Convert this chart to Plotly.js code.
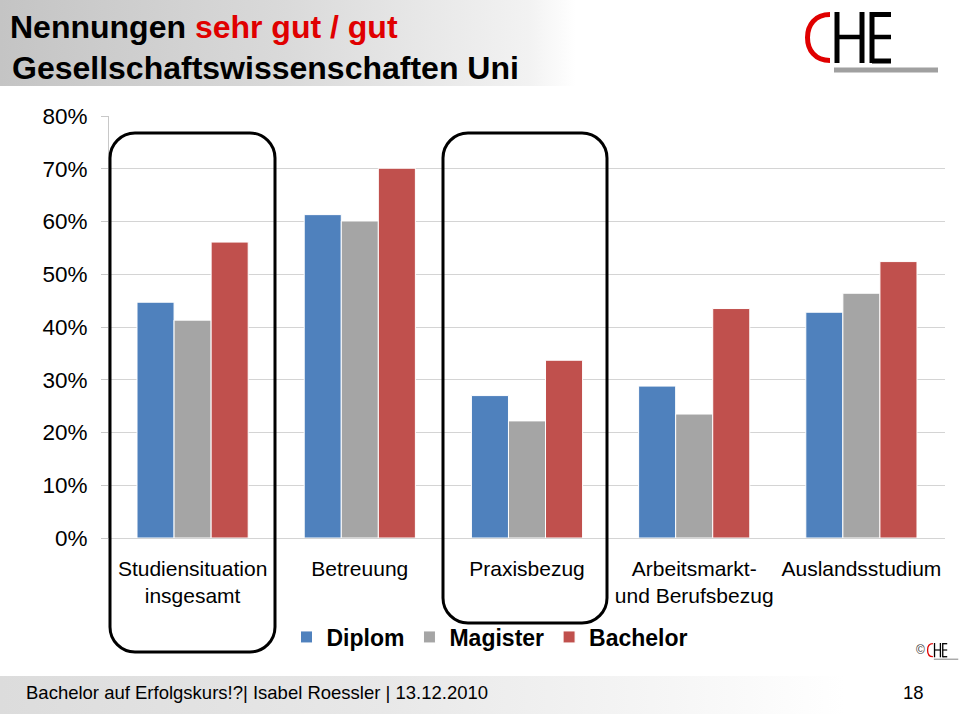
<!DOCTYPE html>
<html>
<head>
<meta charset="utf-8">
<script src="https://cdn.plot.ly/plotly-3.0.1.min.js"></script>
<style>
  html, body { margin: 0; padding: 0; background: #ffffff; }
  #wrap { position: relative; width: 960px; height: 720px; overflow: hidden; background: #ffffff; }
  #hdr { position: absolute; left: 0; top: 0; width: 960px; height: 86px;
         background: linear-gradient(to right, #c4c4c4 0%, #dadada 30%, #f2f2f2 55%, #ffffff 60%, #ffffff 100%); }
  #ftr { position: absolute; left: 0; top: 676px; width: 960px; height: 38px;
         background: linear-gradient(to right, #dcdcdc 0%, #e8e8e8 40%, #f6f6f6 70%, #ffffff 88%); }
  #chart { position: absolute; left: 0; top: 0; width: 960px; height: 720px; }
</style>
</head>
<body>
<div id="wrap">
  <div id="hdr"></div>
  <div id="ftr"></div>
  <div id="chart"></div>
</div>
<script>
// ---- data ----
const categories = ["Studiensituation<br>insgesamt", "Betreuung", "Praxisbezug", "Arbeitsmarkt-<br>und Berufsbezug", "Auslandsstudium"];
const seriesNames = ["Diplom", "Magister", "Bachelor"];
const diplom   = [44.7, 61.3, 27.0, 28.8, 42.8];
const magister = [41.3, 60.1, 22.2, 23.5, 46.4];
const bachelor = [56.1, 70.1, 33.7, 43.5, 52.4];
const yTickVals = [0, 10, 20, 30, 40, 50, 60, 70, 80];
const yTickText = ["0%", "10%", "20%", "30%", "40%", "50%", "60%", "70%", "80%"];
const titleLine1 = "Nennungen";
const titleRed = "sehr gut / gut";
const titleLine2 = "Gesellschaftswissenschaften Uni";
const footerText = "Bachelor auf Erfolgskurs!?| Isabel Roessler | 13.12.2010";
const pageNumber = "18";

// ---- layout helpers (pixel -> paper) ----
const ML = 109, MR = 15, MT = 116, MB = 182;
const PW = 960 - ML - MR, PH = 720 - MT - MB;
function px(x) { return (x - ML) / PW; }
function py(y) { return (720 - MB - y) / PH; }
function P(x, y) { return px(x).toFixed(5) + "," + py(y).toFixed(5); }
function roundRect(x0, y0, x1, y1, r) {
  const k = r * (1 - 0.5523);
  return "M" + P(x0 + r, y0) + " L" + P(x1 - r, y0) +
    " C" + P(x1 - k, y0) + " " + P(x1, y0 + k) + " " + P(x1, y0 + r) +
    " L" + P(x1, y1 - r) +
    " C" + P(x1, y1 - k) + " " + P(x1 - k, y1) + " " + P(x1 - r, y1) +
    " L" + P(x0 + r, y1) +
    " C" + P(x0 + k, y1) + " " + P(x0, y1 - k) + " " + P(x0, y1 - r) +
    " L" + P(x0, y0 + r) +
    " C" + P(x0, y0 + k) + " " + P(x0 + k, y0) + " " + P(x0 + r, y0) + " Z";
}
function logoShapes(ox, oy, sx, sy, lw) {
  const T = (x, y) => [ox + (x - 805) * sx, oy + (y - 12) * sy];
  const line = (a, b, color, w) => {
    const p0 = T(a[0], a[1]), p1 = T(b[0], b[1]);
    return { type: "line", xref: "paper", yref: "paper",
      x0: px(p0[0]), y0: py(p0[1]), x1: px(p1[0]), y1: py(p1[1]),
      line: { color: color, width: w } };
  };
  const c0 = T(830, 14.5), c1 = T(815, 14.5), c2 = T(807.5, 25), c3 = T(807.5, 37.5),
        c4 = T(807.5, 50), c5 = T(815, 60.5), c6 = T(830, 60.5);
  const cpath = "M" + P(c0[0], c0[1]) + " C" + P(c1[0], c1[1]) + " " + P(c2[0], c2[1]) + " " + P(c3[0], c3[1]) +
                " C" + P(c4[0], c4[1]) + " " + P(c5[0], c5[1]) + " " + P(c6[0], c6[1]);
  return [
    { type: "path", xref: "paper", yref: "paper", path: cpath, line: { color: "#E00000", width: lw } },
    line([837, 12], [837, 63], "#000000", lw),
    line([862, 12], [862, 63], "#000000", lw),
    line([837, 37], [862, 37], "#000000", lw * 0.9),
    line([872, 12], [872, 63], "#000000", lw),
    line([872, 14.5], [891, 14.5], "#000000", lw),
    line([872, 37], [891, 37], "#000000", lw * 0.9),
    line([872, 61], [891, 61], "#000000", lw),
    line([834, 70], [938, 70], "#A0A0A0", lw)
  ];
}

const FONT = "Liberation Sans, Arial, sans-serif";
const colors = ["#4F81BD", "#A5A5A5", "#C0504D"];
const values = [diplom, magister, bachelor];

const traces = seriesNames.map((name, i) => ({
  type: "bar",
  name: name,
  x: categories,
  y: values[i],
  marker: { color: colors[i], line: { color: "#FFFFFF", width: 1 } },
  hoverinfo: "skip"
}));

const shapes = [
  { type: "path", xref: "paper", yref: "paper", path: roundRect(110, 133, 275, 652, 25),
    line: { color: "#000000", width: 3 }, fillcolor: "rgba(0,0,0,0)" },
  { type: "path", xref: "paper", yref: "paper", path: roundRect(443, 133, 607, 623, 25),
    line: { color: "#000000", width: 3 }, fillcolor: "rgba(0,0,0,0)" }
].concat(logoShapes(805, 12, 1, 1, 5))
 .concat(logoShapes(927, 643, 0.235, 0.28, 1.3));

const layout = {
  width: 960, height: 720,
  margin: { l: ML, r: MR, t: MT, b: MB, pad: 0 },
  paper_bgcolor: "rgba(0,0,0,0)",
  plot_bgcolor: "rgba(0,0,0,0)",
  font: { family: FONT, color: "#000000" },
  title: {
    text: "<b>" + titleLine1 + " <span style='color:#E00000'>" + titleRed + "</span></b>",
    x: 10 / 960, xanchor: "left", xref: "container",
    y: 1 - 27 / 720, yanchor: "middle", yref: "container",
    font: { family: FONT, size: 32, color: "#000000" }
  },
  barmode: "group",
  bargap: 0.335,
  bargroupgap: 0,
  showlegend: true,
  legend: {
    orientation: "h", x: px(490), xanchor: "center", y: py(637), yanchor: "middle",
    font: { family: FONT, size: 23, color: "#000000", weight: "bold" },
    bgcolor: "rgba(0,0,0,0)", traceorder: "normal", itemclick: false
  },
  xaxis: {
    type: "category", showgrid: false, showline: false, zeroline: false, ticks: "",
    ticklabelstandoff: 16,
    tickfont: { family: FONT, size: 21, color: "#000000" },
    fixedrange: true
  },
  yaxis: {
    range: [0, 80], tickmode: "array", tickvals: yTickVals, ticktext: yTickText,
    showgrid: true, gridcolor: "#D4D4D4", gridwidth: 1,
    zeroline: true, zerolinecolor: "#D4D4D4", zerolinewidth: 1,
    showline: true, linecolor: "#C8C8C8", linewidth: 1,
    ticks: "outside", ticklen: 7, tickcolor: "#C8C8C8", tickwidth: 1,
    ticklabelstandoff: 9,
    tickfont: { family: FONT, size: 22.5, color: "#000000" },
    fixedrange: true
  },
  shapes: shapes,
  annotations: [
    { text: "<b>" + titleLine2 + "</b>", xref: "paper", yref: "paper",
      x: px(10), xanchor: "left", y: py(68), yanchor: "middle", showarrow: false,
      font: { family: FONT, size: 32, color: "#000000" } },
    { text: footerText, xref: "paper", yref: "paper",
      x: px(24), xanchor: "left", y: py(692), yanchor: "middle", showarrow: false,
      font: { family: FONT, size: 18.5, color: "#000000" } },
    { text: pageNumber, xref: "paper", yref: "paper",
      x: px(926), xanchor: "right", y: py(692), yanchor: "middle", showarrow: false,
      font: { family: FONT, size: 18.5, color: "#000000" } },
    { text: "©", xref: "paper", yref: "paper",
      x: px(920), xanchor: "center", y: py(650), yanchor: "middle", showarrow: false,
      font: { family: FONT, size: 12, color: "#333333" } }
  ]
};

Plotly.newPlot("chart", traces, layout, { displayModeBar: false, staticPlot: true });
</script>
</body>
</html>
